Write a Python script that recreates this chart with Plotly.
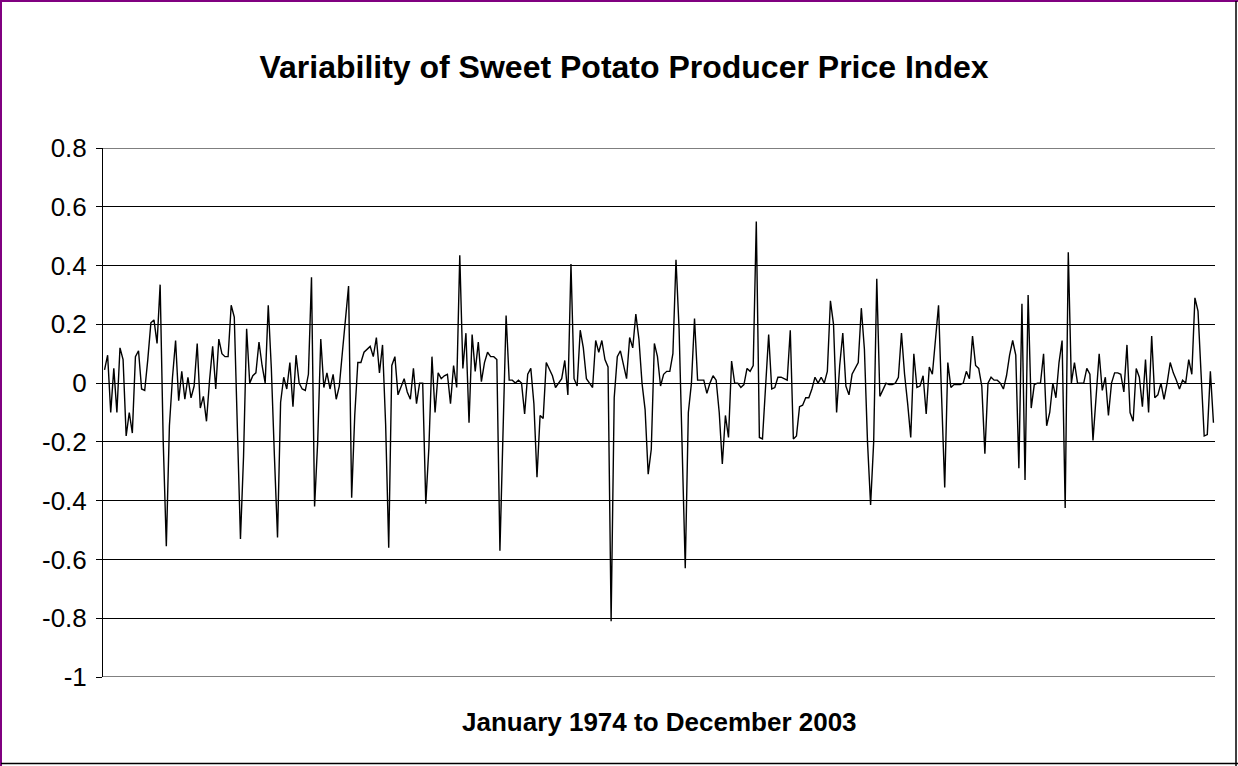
import plotly.graph_objects as go

years = list(range(1974, 2004))
month_names = ["Jan", "Feb", "Mar", "Apr", "May", "Jun", "Jul", "Aug", "Sep", "Oct", "Nov", "Dec"]
months = [f"{m} {y}" for y in years for m in month_names]

values = [
    0.045, 0.095, -0.10, 0.05, -0.10, 0.12, 0.08, -0.18, -0.10, -0.17, 0.09, 0.11,
    -0.02, -0.025, 0.08, 0.205, 0.215, 0.135, 0.335, -0.2, -0.555, -0.145, 0.02, 0.145,
    -0.06, 0.04, -0.055, 0.02, -0.05, -0.01, 0.135, -0.085, -0.045, -0.13, 0.01, 0.125,
    -0.02, 0.15, 0.10, 0.09, 0.09, 0.265, 0.225, -0.15, -0.53, -0.25, 0.185, 0.0,
    0.025, 0.035, 0.14, 0.06, 0.0, 0.265, 0.05, -0.25, -0.525, -0.065, 0.02, -0.02,
    0.07, -0.08, 0.095, 0.0, -0.02, -0.025, 0.03, 0.36, -0.42, -0.2, 0.15, -0.015,
    0.035, -0.02, 0.03, -0.055, -0.01, 0.105, 0.23, 0.33, -0.39, -0.11, 0.07, 0.07,
    0.105, 0.115, 0.125, 0.09, 0.155, 0.035, 0.13, -0.14, -0.56, 0.06, 0.09, -0.04,
    -0.01, 0.015, -0.03, -0.055, 0.05, -0.07, 0.0, 0.0, -0.41, -0.22, 0.09, -0.1,
    0.035, 0.015, 0.025, 0.03, -0.07, 0.06, -0.015, 0.435, 0.05, 0.17, -0.135, 0.165,
    0.04, 0.14, 0.005, 0.07, 0.105, 0.09, 0.09, 0.08, -0.57, -0.15, 0.23, 0.01,
    0.01, 0.0, 0.01, 0.0, -0.105, 0.03, 0.05, -0.07, -0.32, -0.11, -0.12, 0.07,
    0.05, 0.025, -0.015, 0.0, 0.015, 0.077, -0.04, 0.405, 0.015, -0.01, 0.18, 0.12,
    0.015, 0.0, -0.015, 0.145, 0.105, 0.145, 0.08, 0.055, -0.81, -0.05, 0.09, 0.11,
    0.06, 0.015, 0.155, 0.12, 0.235, 0.15, 0.0, -0.09, -0.31, -0.225, 0.135, 0.09,
    -0.01, 0.03, 0.04, 0.04, 0.1, 0.42, 0.185, -0.2, -0.63, -0.1, 0.0, 0.22,
    0.01, 0.01, 0.01, -0.035, 0.0, 0.025, 0.01, -0.1, -0.275, -0.11, -0.185, 0.075,
    0.0, 0.0, -0.015, -0.005, 0.05, 0.04, 0.06, 0.55, -0.185, -0.19, -0.01, 0.165,
    -0.02, -0.015, 0.02, 0.02, 0.015, 0.01, 0.18, -0.19, -0.18, -0.08, -0.075, -0.05,
    -0.05, -0.02, 0.02, 0.0, 0.02, 0.0, 0.04, 0.28, 0.2, -0.1, 0.06, 0.17,
    -0.01, -0.04, 0.03, 0.05, 0.07, 0.255, 0.115, -0.2, -0.415, -0.2, 0.355, -0.045,
    -0.025, 0.0, -0.005, -0.005, 0.0, 0.02, 0.17, 0.03, -0.07, -0.185, 0.1, -0.015,
    -0.01, 0.025, -0.105, 0.055, 0.03, 0.14, 0.265, -0.05, -0.355, 0.07, -0.015, -0.005,
    -0.005, -0.005, 0.0, 0.04, 0.015, 0.16, 0.06, 0.05, -0.01, -0.24, 0.0, 0.02,
    0.01, 0.01, 0.0, -0.02, 0.025, 0.095, 0.145, 0.095, -0.29, 0.27, -0.33, 0.3,
    -0.085, -0.005, 0.0, 0.0, 0.1, -0.145, -0.1, 0.0, -0.05, 0.07, 0.145, -0.425,
    0.445, 0.0, 0.07, 0.0, 0.0, 0.0, 0.05, 0.03, -0.195, -0.05, 0.1, -0.025,
    0.02, -0.11, 0.0, 0.035, 0.035, 0.03, -0.03, 0.13, -0.1, -0.13, 0.05, 0.02,
    -0.08, 0.08, -0.1, 0.16, -0.05, -0.04, 0.0, -0.055, 0.0, 0.07, 0.035, 0.01,
    -0.02, 0.01, 0.0, 0.08, 0.03, 0.29, 0.245, 0.03, -0.18, -0.175, 0.04, -0.135,
]

y_tick_vals = [0.8, 0.6, 0.4, 0.2, 0, -0.2, -0.4, -0.6, -0.8, -1]
y_tick_text = ["0.8", "0.6", "0.4", "0.2", "0", "-0.2", "-0.4", "-0.6", "-0.8", "-1"]

title_text = "Variability of Sweet Potato Producer Price Index"
x_title_text = "January 1974 to December 2003"

FONT = "Liberation Sans, Arial, sans-serif"
W, H = 1238, 766
L, R, T, B = 103, 23, 148, 89
PW, PH = W - L - R, H - T - B


def px_x(p):
    return (p - L) / PW


def px_y(p):
    return (H - B - p) / PH


fig = go.Figure()
fig.add_trace(go.Scatter(
    x=months, y=values, mode="lines",
    line=dict(color="black", width=1.4),
    hoverinfo="x+y", showlegend=False,
))

shapes = []
# gridlines at the range ends (plotly omits those)
for yv in (y_tick_vals[0], y_tick_vals[-1]):
    shapes.append(dict(type="line", xref="paper", yref="y", x0=0, x1=1, y0=yv, y1=yv,
                       line=dict(color="black", width=1), layer="below"))
# chart-area frame: purple left/top, black right/bottom
shapes += [
    dict(type="line", xref="paper", yref="paper", x0=px_x(1), x1=px_x(1), y0=px_y(H), y1=px_y(0),
         line=dict(color="#800080", width=2), layer="above"),
    dict(type="line", xref="paper", yref="paper", x0=px_x(0), x1=px_x(W), y0=px_y(1), y1=px_y(1),
         line=dict(color="#800080", width=2), layer="above"),
    dict(type="line", xref="paper", yref="paper", x0=px_x(1236), x1=px_x(1236), y0=px_y(H), y1=px_y(1),
         line=dict(color="black", width=1.5), layer="above"),
    dict(type="line", xref="paper", yref="paper", x0=px_x(1), x1=px_x(W), y0=px_y(763.5), y1=px_y(763.5),
         line=dict(color="black", width=1.5), layer="above"),
]

fig.update_layout(
    width=W, height=H, autosize=False,
    margin=dict(l=L, r=R, t=T, b=B),
    paper_bgcolor="white", plot_bgcolor="white",
    font=dict(family=FONT, color="black", size=26),
    title=dict(
        text=f"<b>{title_text}</b>",
        x=624 / W, xanchor="center", xref="container",
        y=1 - 67 / H, yanchor="middle", yref="container",
        font=dict(family=FONT, size=32, color="black"),
    ),
    xaxis=dict(
        type="category", range=[-0.5, len(months) - 0.5],
        showgrid=False, showticklabels=False, ticks="",
        showline=False, zeroline=False, fixedrange=True,
    ),
    yaxis=dict(
        range=[-1, 0.8], tickvals=y_tick_vals, ticktext=y_tick_text,
        showgrid=True, gridcolor="black", gridwidth=1,
        zeroline=True, zerolinecolor="black", zerolinewidth=1,
        showline=True, linecolor="black", linewidth=1,
        ticks="outside", ticklen=6, tickcolor="black",
        ticklabelstandoff=4,
        tickfont=dict(family=FONT, size=26, color="black"),
        fixedrange=True,
    ),
    annotations=[dict(
        text=f"<b>{x_title_text}</b>", xref="paper", yref="paper",
        x=0.5, y=px_y(722), xanchor="center", yanchor="middle",
        showarrow=False, font=dict(family=FONT, size=26, color="black"),
    )],
    shapes=shapes,
)

fig.write_html(
    "out.html",
    config={"displayModeBar": False},
    post_script="document.body.style.margin='0';document.body.style.padding='0';document.body.style.overflow='hidden';",
)
